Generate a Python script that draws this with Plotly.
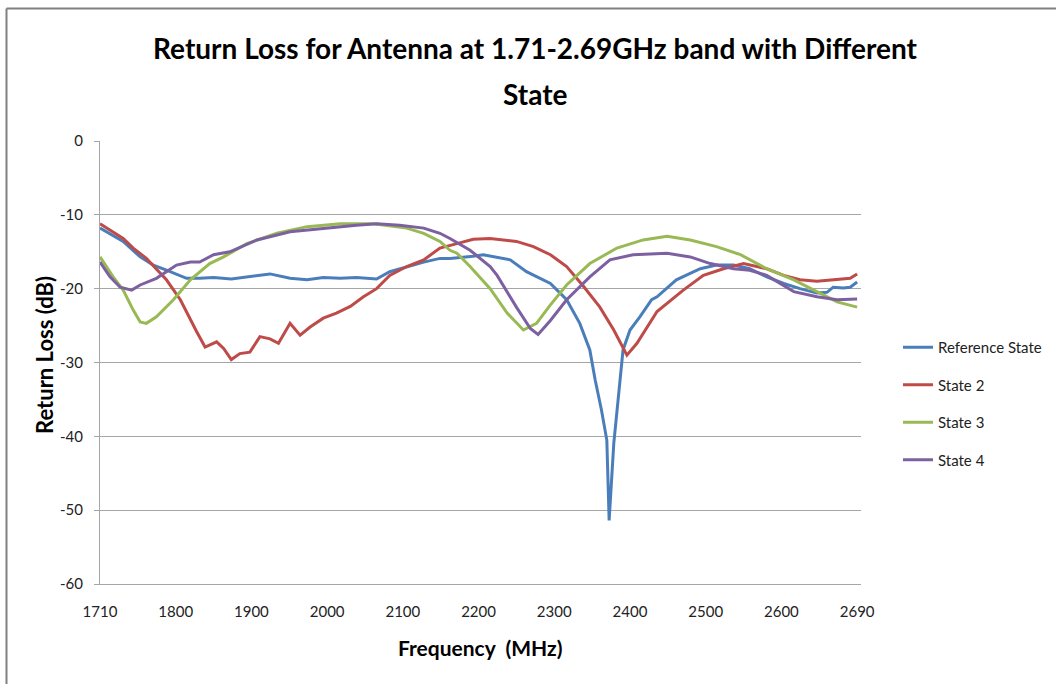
import plotly.graph_objects as go

# ---- data (frequency in MHz, return loss in dB) ----
ref_freq = [1710, 1740, 1762, 1779, 1796, 1822, 1839, 1857, 1880, 1900, 1930, 1956, 1978, 1999,
            2021, 2042, 2068, 2085, 2107, 2129, 2150, 2163, 2193, 2206, 2241, 2262, 2293, 2314,
            2331, 2344, 2351, 2359, 2366, 2369, 2375, 2381, 2387, 2396, 2409, 2424, 2431, 2456,
            2487, 2508, 2530, 2551, 2573, 2595, 2616, 2638, 2651, 2659, 2672, 2681, 2690]
ref_db = [-11.8, -13.6, -15.7, -16.8, -17.5, -18.6, -18.6, -18.5, -18.7, -18.4, -18.0, -18.6, -18.8, -18.5,
          -18.6, -18.5, -18.7, -17.7, -17.0, -16.4, -15.9, -15.9, -15.6, -15.4, -16.1, -17.7, -19.3, -21.5,
          -24.7, -28.3, -32.4, -36.4, -40.5, -51.4, -41.0, -35.1, -28.3, -25.6, -23.8, -21.5, -21.1, -18.8,
          -17.3, -16.8, -16.8, -17.3, -18.4, -19.3, -20.0, -20.6, -20.5, -19.8, -19.9, -19.8, -19.1]

s2_freq = [1710, 1740, 1753, 1770, 1796, 1814, 1835, 1846, 1861, 1870, 1880, 1891, 1904, 1917,
           1930, 1941, 1956, 1969, 1982, 1999, 2016, 2034, 2051, 2068, 2085, 2107, 2129, 2150,
           2172, 2193, 2215, 2249, 2271, 2293, 2314, 2336, 2357, 2375, 2392, 2405, 2431, 2465,
           2491, 2517, 2543, 2573, 2595, 2616, 2638, 2659, 2681, 2690]
s2_db = [-11.2, -13.2, -14.5, -15.9, -18.8, -21.5, -25.8, -27.9, -27.2, -28.1, -29.6, -28.8, -28.6, -26.5,
         -26.8, -27.4, -24.7, -26.3, -25.2, -24.0, -23.3, -22.4, -21.1, -20.0, -18.2, -17.0, -16.1, -14.5,
         -13.9, -13.3, -13.2, -13.6, -14.3, -15.4, -17.0, -19.7, -22.5, -25.6, -29.0, -27.4, -23.1, -20.2,
         -18.2, -17.3, -16.6, -17.3, -18.2, -18.8, -19.0, -18.8, -18.6, -18.0]

s3_freq = [1710, 1727, 1740, 1753, 1762, 1770, 1783, 1805, 1827, 1852, 1870, 1900, 1939, 1978,
           2021, 2064, 2107, 2129, 2150, 2163, 2172, 2189, 2215, 2237, 2258, 2275, 2293, 2314,
           2344, 2379, 2413, 2444, 2474, 2508, 2539, 2573, 2608, 2638, 2664, 2690]
s3_db = [-15.7, -18.4, -20.2, -22.9, -24.5, -24.7, -23.8, -21.5, -18.8, -16.6, -15.7, -13.9, -12.5, -11.6,
         -11.2, -11.2, -11.8, -12.5, -13.6, -14.8, -15.2, -17.0, -20.0, -23.3, -25.6, -24.7, -22.2, -19.5,
         -16.6, -14.5, -13.4, -12.9, -13.4, -14.3, -15.4, -17.3, -18.8, -20.4, -21.8, -22.5]

s4_freq = [1710, 1723, 1736, 1751, 1762, 1783, 1809, 1827, 1839, 1857, 1878, 1913, 1956, 1999,
           2042, 2068, 2098, 2129, 2150, 2163, 2189, 2215, 2224, 2249, 2267, 2277, 2293, 2314,
           2344, 2370, 2400, 2444, 2474, 2500, 2530, 2551, 2573, 2608, 2638, 2664, 2690]
s4_db = [-16.4, -18.4, -19.8, -20.2, -19.5, -18.6, -16.8, -16.4, -16.4, -15.4, -15.0, -13.4, -12.3, -11.8,
         -11.4, -11.2, -11.4, -11.8, -12.5, -13.2, -14.8, -17.0, -18.2, -22.5, -25.4, -26.2, -24.3, -21.5,
         -18.4, -16.1, -15.4, -15.2, -15.7, -16.6, -17.3, -17.5, -18.2, -20.4, -21.1, -21.5, -21.4]

series_names = ["Reference State", "State 2", "State 3", "State 4"]
series_colors = ["#4A7EBB", "#BE4B48", "#98B954", "#7D60A0"]

x_tick_text = ["1710", "1800", "1900", "2000", "2100", "2200", "2300", "2400", "2500", "2600", "2690"]
x_tick_vals = [1710 + 98 * i for i in range(len(x_tick_text))]
y_tick_vals = [0, -10, -20, -30, -40, -50, -60]
y_tick_text = ["0", "-10", "-20", "-30", "-40", "-50", "-60"]

title_lines = ["Return Loss for Antenna at 1.71-2.69GHz band with Different", "State"]
x_title = "Frequency  (MHz)"
y_title = "Return Loss (dB)"

# ---- figure ----
fig = go.Figure()
for name, color, fx, fy in zip(series_names, series_colors,
                               [ref_freq, s2_freq, s3_freq, s4_freq],
                               [ref_db, s2_db, s3_db, s4_db]):
    fig.add_trace(go.Scatter(x=fx, y=fy, mode="lines", name=name, legendgroup=name,
                             line=dict(color=color, width=3)))

W, H = 1056, 684
ml, mr, mt, mb = 100, 195, 141, 100
pw, ph = W - ml - mr, H - mt - mb

def px_x(p):
    return (p - ml) / pw

def px_y(p):
    return (H - mb - p) / ph

FONT = "Lato, Open Sans, sans-serif"
ann = []
ann.append(dict(text="<b>%s</b>" % title_lines[0], x=px_x(535), y=px_y(48), xref="paper", yref="paper",
                xanchor="center", yanchor="middle", showarrow=False,
                font=dict(size=28, color="#000000", family=FONT)))
ann.append(dict(text="<b>%s</b>" % title_lines[1], x=px_x(535), y=px_y(94), xref="paper", yref="paper",
                xanchor="center", yanchor="middle", showarrow=False,
                font=dict(size=28, color="#000000", family=FONT)))
ann.append(dict(text="<b>%s</b>" % x_title, x=px_x(480), y=px_y(647), xref="paper", yref="paper",
                xanchor="center", yanchor="middle", showarrow=False,
                font=dict(size=21, color="#000000", family=FONT)))
ann.append(dict(text="<b>%s</b>" % y_title, x=px_x(44), y=px_y(355), xref="paper", yref="paper",
                xanchor="center", yanchor="middle", showarrow=False, textangle=-90,
                font=dict(size=22, color="#000000", family=FONT)))

fig.update_layout(
    width=W, height=H,
    margin=dict(l=ml, r=mr, t=mt, b=mb, pad=0, autoexpand=False),
    paper_bgcolor="white", plot_bgcolor="white",
    font=dict(family=FONT, color="#222222", size=14),
    xaxis=dict(range=[1710, 2695], tickvals=x_tick_vals, ticktext=x_tick_text, automargin=False,
               showgrid=False, zeroline=False, showline=True, linecolor="#A6A6A6", linewidth=1,
               ticks="", ticklabelstandoff=14, tickfont=dict(size=15, color="#222222")),
    yaxis=dict(range=[-60, 0], tickvals=y_tick_vals, ticktext=y_tick_text, automargin=False,
               showgrid=True, gridcolor="#A6A6A6", gridwidth=1,
               zeroline=False, showline=True, linecolor="#A6A6A6", linewidth=1,
               ticks="outside", ticklen=5, tickcolor="#A6A6A6", ticklabelstandoff=8,
               tickfont=dict(size=15, color="#222222")),
    legend=dict(x=px_x(898), y=px_y(331), xanchor="left", yanchor="top",
                font=dict(size=15, color="#222222"), tracegroupgap=15, itemwidth=30,
                bgcolor="rgba(0,0,0,0)"),
    showlegend=True,
    annotations=ann,
    shapes=[
        dict(type="line", xref="paper", yref="paper", x0=px_x(6.5), x1=px_x(1060),
             y0=px_y(8.5), y1=px_y(8.5), line=dict(color="#808080", width=2)),
        dict(type="line", xref="paper", yref="paper", x0=px_x(6.5), x1=px_x(6.5),
             y0=px_y(8.5), y1=px_y(690), line=dict(color="#808080", width=2)),
    ],
)

fig.write_html("out.html", config={"displayModeBar": False},
               post_script="document.body.style.margin='0px';document.body.style.overflow='hidden';")
